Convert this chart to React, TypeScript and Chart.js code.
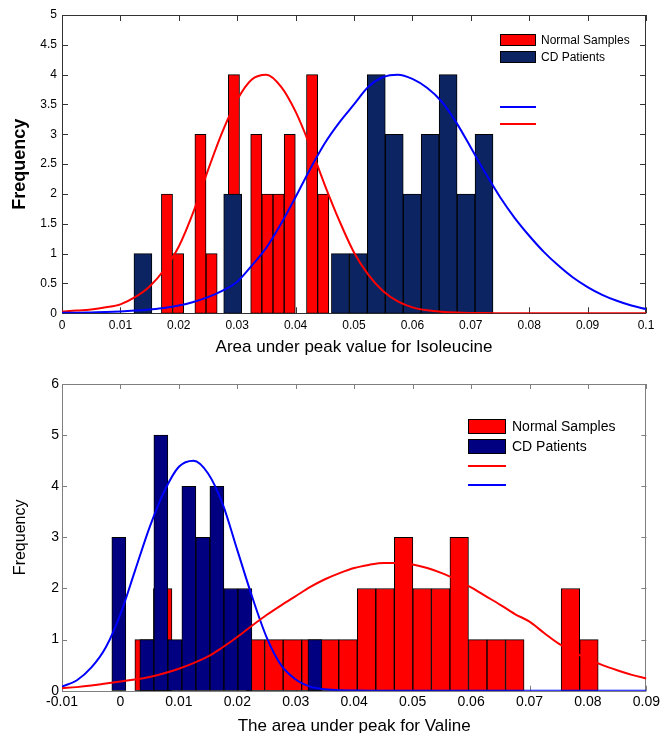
import React, { useEffect, useRef } from "react";
import { Chart, registerables } from "chart.js";

Chart.register(...registerables);

// ---------------- Top chart: Isoleucine ----------------
const topNormalBinCenters = [
  0.017976, 0.019887, 0.021798, 0.023709, 0.02562, 0.027531, 0.029442, 0.031353,
  0.033264, 0.035175, 0.037086, 0.038997, 0.040908, 0.042819, 0.04473,
];
const topNormalCounts = [2, 1, 0, 3, 1, 0, 4, 0, 3, 2, 2, 3, 0, 4, 2];

const topCDBinCenters = [
  0.013857, 0.016931, 0.020005, 0.023079, 0.026153, 0.029227, 0.032301, 0.035375,
  0.038449, 0.041523, 0.044597, 0.047671, 0.050745, 0.053819, 0.056893, 0.059967,
  0.063041, 0.066115, 0.069189, 0.072263,
];
const topCDCounts = [1, 0, 0, 0, 0, 2, 0, 0, 0, 0, 0, 1, 1, 4, 3, 2, 3, 4, 2, 3];

const topCurveX = [
  0, 0.0025, 0.005, 0.0075, 0.01, 0.0125, 0.015, 0.0175, 0.02, 0.0225, 0.025, 0.0275,
  0.03, 0.0325, 0.035, 0.0375, 0.04, 0.0425, 0.045, 0.0475, 0.05, 0.0525, 0.055, 0.0575,
  0.06, 0.0625, 0.065, 0.0675, 0.07, 0.0725, 0.075, 0.0775, 0.08, 0.0825, 0.085, 0.0875,
  0.09, 0.0925, 0.095, 0.0975, 0.1,
];
const topNormalFit = [
  0.03, 0.045, 0.065, 0.1, 0.15, 0.27, 0.45, 0.73, 1.12, 1.7, 2.4, 3.05,
  3.58, 3.92, 4.0, 3.8, 3.38, 2.8, 2.15, 1.55, 1.02, 0.64, 0.37, 0.2,
  0.1, 0.05, 0.025, 0.012, 0.006, 0.003, 0.002, 0.001, 0, 0, 0, 0,
  0, 0, 0, 0, 0,
];
const topCDFit = [
  0.01, 0.01, 0.015, 0.02, 0.03, 0.045, 0.065, 0.09, 0.13, 0.19, 0.27, 0.38,
  0.53, 0.8, 1.1, 1.5, 1.95, 2.42, 2.85, 3.2, 3.5, 3.8, 3.96, 4.0,
  3.93, 3.78, 3.55, 3.2, 2.78, 2.35, 1.95, 1.6, 1.3, 1.03, 0.8, 0.6,
  0.44, 0.31, 0.21, 0.13, 0.07,
];
const topXTitle = "Area under peak value for Isoleucine";

// ---------------- Bottom chart: Valine ----------------
const botNormalBinCenters = [
  0.004056, 0.007227, 0.010399, 0.01357, 0.016742, 0.019913, 0.023084, 0.026256,
  0.029427, 0.032599, 0.03577, 0.038942, 0.042113, 0.045284, 0.048456, 0.051627,
  0.054799, 0.05797, 0.061142, 0.064313, 0.067484, 0.070656, 0.073827, 0.076999,
  0.08017,
];
const botNormalCounts = [1, 2, 0, 0, 0, 0, 1, 1, 1, 1, 1, 1, 2, 2, 3, 2, 2, 3, 1, 1, 1, 0, 0, 2, 1];

const botCDBinCenters = [
  -0.000274, 0.002123, 0.00452, 0.006917, 0.009314, 0.011711, 0.014108, 0.016505,
  0.018902, 0.021299, 0.023696, 0.026093, 0.02849, 0.030887, 0.033284,
];
const botCDCounts = [3, 0, 1, 5, 1, 4, 3, 4, 2, 2, 0, 0, 0, 0, 1];

const botCurveX = [
  -0.01, -0.0075, -0.005, -0.0025, 0, 0.0025, 0.005, 0.0075, 0.01, 0.0125, 0.015, 0.0175,
  0.02, 0.0225, 0.025, 0.0275, 0.03, 0.0325, 0.035, 0.0375, 0.04, 0.0425, 0.045, 0.0475,
  0.05, 0.0525, 0.055, 0.0575, 0.06, 0.0625, 0.065, 0.0675, 0.07, 0.0725, 0.075, 0.0775,
  0.08, 0.0825, 0.085, 0.0875, 0.09,
];
const botNormalFit = [
  0.05, 0.07, 0.1, 0.14, 0.18, 0.22, 0.27, 0.34, 0.43, 0.54, 0.67, 0.85,
  1.05, 1.27, 1.48, 1.67, 1.85, 2.03, 2.18, 2.3, 2.4, 2.46, 2.5, 2.5,
  2.47, 2.4, 2.3, 2.17, 2.02, 1.85, 1.68, 1.5, 1.35, 1.13, 0.92, 0.76,
  0.62, 0.5, 0.4, 0.31, 0.24,
];
const botCDFit = [
  0.08, 0.2, 0.45, 0.85, 1.5, 2.35, 3.2, 3.9, 4.38, 4.5, 4.25, 3.65,
  2.75, 1.85, 1.05, 0.5, 0.22, 0.08, 0.03, 0.01, 0.005, 0, 0, 0,
  0, 0, 0, 0, 0, 0, 0, 0, 0, 0, 0, 0,
  0, 0, 0, 0, 0,
];
const botXTitle = "The area under peak for Valine";

const yTitle = "Frequency";
const normalLabel = "Normal Samples";
const cdLabel = "CD Patients";

// ---------------- helpers ----------------
const FONT = "'Liberation Sans', Arial, Helvetica, sans-serif";

const bars = (centers: number[], counts: number[]) =>
  centers.map((x, i) => ({ x, y: counts[i] === 0 ? null : counts[i] }));
const pts = (xs: number[], ys: number[]) => xs.map((x, i) => ({ x, y: ys[i] }));
const fmt = (v: any) => String(Math.round(Number(v) * 10000) / 10000);

const framePlugin = {
  id: "frame",
  beforeDatasetsDraw(chart: any, _a: any, opts: any) {
    const { ctx, chartArea } = chart;
    const { left, right, top, bottom } = chartArea;
    const xs = chart.scales.x;
    const ys = chart.scales.y;
    const L = opts.tickLen;
    ctx.save();
    ctx.strokeStyle = opts.color;
    ctx.lineWidth = 1;
    ctx.beginPath();
    xs.ticks.forEach((_t: any, i: number) => {
      const p = Math.round(xs.getPixelForTick(i)) + 0.5;
      ctx.moveTo(p, bottom);
      ctx.lineTo(p, bottom - L);
      ctx.moveTo(p, top);
      ctx.lineTo(p, top + L);
    });
    ys.ticks.forEach((_t: any, i: number) => {
      const p = Math.round(ys.getPixelForTick(i)) + 0.5;
      ctx.moveTo(left, p);
      ctx.lineTo(left + L, p);
      ctx.moveTo(right, p);
      ctx.lineTo(right - L, p);
    });
    ctx.stroke();
    ctx.strokeRect(Math.round(left) + 0.5, Math.round(top) + 0.5, Math.round(right - left) - 1, Math.round(bottom - top));
    ctx.restore();
  },
};

const legendPlugin = {
  id: "boxLegend",
  afterDraw(chart: any, _a: any, opts: any) {
    const { ctx } = chart;
    ctx.save();
    (opts.items || []).forEach((it: any) => {
      const ds = chart.data.datasets[it.datasetIndex];
      if (it.kind === "box") {
        ctx.fillStyle = ds.backgroundColor;
        ctx.fillRect(opts.x, it.y, opts.w, opts.h);
        ctx.strokeStyle = "#000";
        ctx.lineWidth = 1;
        ctx.strokeRect(opts.x + 0.5, it.y + 0.5, opts.w - 1, opts.h - 1);
        ctx.fillStyle = "#000";
        ctx.font = `${opts.fontSize}px ${FONT}`;
        ctx.textBaseline = "middle";
        ctx.textAlign = "left";
        ctx.fillText(ds.label, opts.x + opts.w + opts.gap, it.y + opts.h / 2 + 0.5);
      } else {
        ctx.strokeStyle = ds.borderColor;
        ctx.lineWidth = ds.borderWidth;
        ctx.beginPath();
        ctx.moveTo(opts.x, it.y);
        ctx.lineTo(opts.x + opts.w, it.y);
        ctx.stroke();
      }
    });
    ctx.restore();
  },
};

function buildConfig(p: any) {
  return {
    type: "bar",
    data: {
      datasets: [
        {
          type: "line",
          label: "",
          data: pts(p.curveX, p.firstFit),
          borderColor: p.firstFitColor,
          borderWidth: 2,
          pointRadius: 0,
          cubicInterpolationMode: "monotone",
          fill: false,
          order: 0,
        },
        {
          type: "line",
          label: "",
          data: pts(p.curveX, p.secondFit),
          borderColor: p.secondFitColor,
          borderWidth: 2,
          pointRadius: 0,
          cubicInterpolationMode: "monotone",
          fill: false,
          order: 0,
        },
        {
          type: "bar",
          label: cdLabel,
          data: bars(p.cdCenters, p.cdCounts),
          backgroundColor: p.navy,
          borderColor: "#000",
          borderWidth: 1,
          borderSkipped: false,
          barThickness: "flex",
          categoryPercentage: 1,
          barPercentage: 1,
          stack: "hist",
          order: 1,
        },
        {
          type: "bar",
          label: normalLabel,
          data: bars(p.nCenters, p.nCounts),
          backgroundColor: "#ff0000",
          borderColor: "#000",
          borderWidth: 1,
          borderSkipped: false,
          barThickness: "flex",
          categoryPercentage: 1,
          barPercentage: 1,
          stack: "hist",
          order: 2,
        },
      ],
    },
    options: {
      responsive: false,
      animation: false,
      events: [],
      layout: { padding: p.padding },
      scales: {
        x: {
          type: "linear",
          min: p.xMin,
          max: p.xMax,
          offset: false,
          grid: { display: false, drawTicks: false },
          border: { display: false },
          ticks: {
            stepSize: 0.01,
            autoSkip: false,
            maxRotation: 0,
            padding: p.xTickPad,
            color: "#000",
            font: { family: FONT, size: p.tickSize },
            callback: fmt,
          },
          title: {
            display: true,
            text: p.xTitle,
            color: "#000",
            font: { family: FONT, size: 17 },
            padding: { top: 0, bottom: p.xTitlePadB },
          },
          afterFit: (s: any) => {
            s.height = p.xAxisH;
          },
        },
        y: {
          type: "linear",
          min: 0,
          max: p.yMax,
          stacked: false,
          grid: { display: false, drawTicks: false },
          border: { display: false },
          ticks: {
            stepSize: p.yStep,
            autoSkip: false,
            padding: p.yTickPad,
            color: "#000",
            font: { family: FONT, size: p.tickSize },
            callback: fmt,
          },
          title: {
            display: true,
            text: yTitle,
            color: "#000",
            font: { family: FONT, size: p.yTitleSize, weight: p.yTitleWeight },
            padding: { top: p.yTitlePadT, bottom: 0 },
          },
          afterFit: (s: any) => {
            s.width = 62;
          },
        },
      },
      plugins: {
        legend: { display: false },
        tooltip: { enabled: false },
        frame: { color: p.frameColor, tickLen: p.tickLen },
        boxLegend: p.legend,
      },
    },
    plugins: [framePlugin, legendPlugin],
  };
}

const topParams = {
  curveX: topCurveX,
  firstFit: topCDFit,
  firstFitColor: "#0000ff",
  secondFit: topNormalFit,
  secondFitColor: "#ff0000",
  cdCenters: topCDBinCenters,
  cdCounts: topCDCounts,
  nCenters: topNormalBinCenters,
  nCounts: topNormalCounts,
  navy: "#0c2462",
  padding: { top: 15, right: 17, bottom: 0, left: 0 },
  xMin: 0,
  xMax: 0.1,
  yMax: 5,
  yStep: 0.5,
  tickSize: 12,
  xTickPad: 5,
  yTickPad: 5,
  xTitle: topXTitle,
  xTitlePadB: 2,
  xAxisH: 46.7,
  yTitleSize: 18,
  yTitleWeight: "bold",
  yTitlePadT: 9,
  frameColor: "#333333",
  tickLen: 6,
  legend: {
    x: 500,
    w: 36,
    h: 12,
    gap: 5,
    fontSize: 12,
    items: [
      { kind: "box", datasetIndex: 3, y: 34 },
      { kind: "box", datasetIndex: 2, y: 51 },
      { kind: "line", datasetIndex: 0, y: 107 },
      { kind: "line", datasetIndex: 1, y: 124 },
    ],
  },
};

const botParams = {
  curveX: botCurveX,
  firstFit: botNormalFit,
  firstFitColor: "#ff0000",
  secondFit: botCDFit,
  secondFitColor: "#0000ff",
  cdCenters: botCDBinCenters,
  cdCounts: botCDCounts,
  nCenters: botNormalBinCenters,
  nCounts: botNormalCounts,
  navy: "#000080",
  padding: { top: 24, right: 16.3, bottom: 0, left: 0 },
  xMin: -0.01,
  xMax: 0.09,
  yMax: 6,
  yStep: 1,
  tickSize: 14,
  xTickPad: 3,
  yTickPad: 3,
  xTitle: botXTitle,
  xTitlePadB: 3,
  xAxisH: 49.3,
  yTitleSize: 16,
  yTitleWeight: "normal",
  yTitlePadT: 11,
  frameColor: "#7f7f7f",
  tickLen: 5,
  legend: {
    x: 468,
    w: 38,
    h: 15,
    gap: 6,
    fontSize: 14,
    items: [
      { kind: "box", datasetIndex: 3, y: 59 },
      { kind: "box", datasetIndex: 2, y: 79 },
      { kind: "line", datasetIndex: 0, y: 106 },
      { kind: "line", datasetIndex: 1, y: 125 },
    ],
  },
};

function HistChart({ params, width, height }: { params: any; width: number; height: number }) {
  const ref = useRef<HTMLCanvasElement | null>(null);
  useEffect(() => {
    if (!ref.current) return;
    const chart = new Chart(ref.current, buildConfig(params) as any);
    return () => chart.destroy();
  }, [params]);
  return <canvas ref={ref} width={width} height={height} style={{ display: "block" }} />;
}

export default function App() {
  return (
    <div
      style={{
        position: "fixed",
        left: 0,
        top: 0,
        width: 663,
        height: 733,
        overflow: "hidden",
        background: "#ffffff",
      }}
    >
      <div style={{ position: "absolute", left: 0, top: 0 }}>
        <HistChart params={topParams} width={663} height={360} />
      </div>
      <div style={{ position: "absolute", left: 0, top: 360 }}>
        <HistChart params={botParams} width={663} height={380} />
      </div>
    </div>
  );
}
